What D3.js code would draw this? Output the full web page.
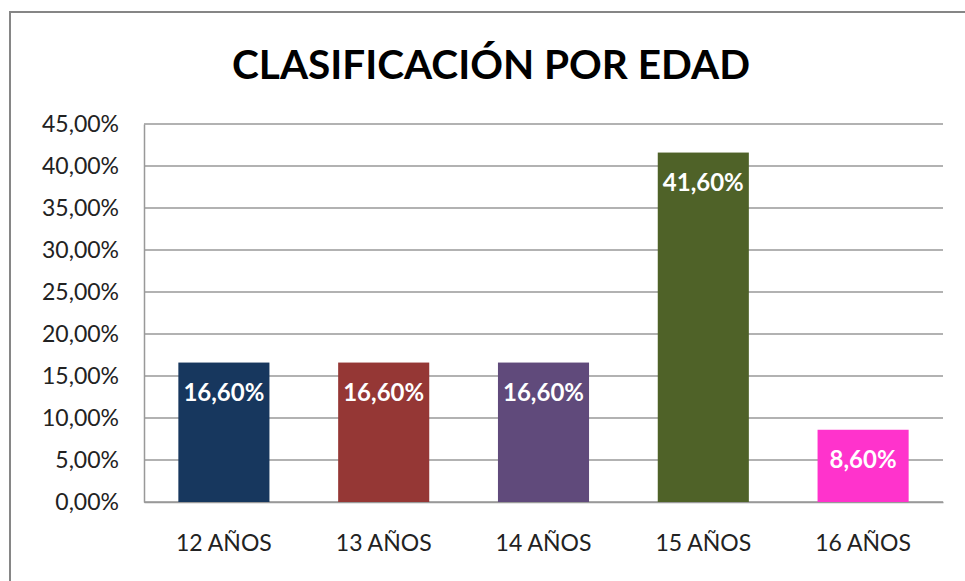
<!DOCTYPE html>
<html>
<head>
<meta charset="utf-8">
<script src="https://cdn.jsdelivr.net/npm/d3@7"></script>
<style>
  body { margin: 0; background: #fff; }
  svg { display: block; }
</style>
</head>
<body>
<div id="chart"></div>
<script>
// categories and values
var categories = ["12 AÑOS", "13 AÑOS", "14 AÑOS", "15 AÑOS", "16 AÑOS"];
var values = [16.6, 16.6, 16.6, 41.6, 8.6];
var barColors = ["#17375E", "#953735", "#604A7B", "#4F6228", "#FF33CC"];
var yTicks = [0, 5, 10, 15, 20, 25, 30, 35, 40, 45];

var W = 965, H = 581;
var plot = { left: 144, right: 943, top: 124, bottom: 502 };
var font = "Lato, 'Liberation Sans', Arial, sans-serif";

var svg = d3.select("#chart").append("svg")
    .attr("width", W)
    .attr("height", H);

// outer chart border (runs off the right / bottom edge like the screenshot)
svg.append("rect")
    .attr("x", 10).attr("y", 12)
    .attr("width", W + 10).attr("height", H + 10)
    .attr("fill", "#fff")
    .attr("stroke", "#868686")
    .attr("stroke-width", 2);

// title
svg.append("text")
    .attr("x", 491).attr("y", 79)
    .attr("text-anchor", "middle")
    .attr("textLength", 518)
    .attr("lengthAdjust", "spacingAndGlyphs")
    .style("font-family", font)
    .style("font-weight", "bold")
    .style("font-size", "40px")
    .style("fill", "#000")
    .text("CLASIFICACIÓN POR EDAD");

var x = d3.scaleBand()
    .domain(categories)
    .range([plot.left, plot.right])
    .paddingInner(0.43)
    .paddingOuter(0.215);

var y = d3.scaleLinear()
    .domain([0, 45])
    .range([plot.bottom, plot.top]);

// gridlines
svg.append("g")
    .selectAll("line")
    .data(yTicks)
    .join("line")
    .attr("x1", plot.left).attr("x2", plot.right)
    .attr("y1", function(d) { return y(d); })
    .attr("y2", function(d) { return y(d); })
    .attr("stroke", "#999")
    .attr("stroke-width", 1.5);

// y axis
var yAxis = d3.axisLeft(y)
    .tickValues(yTicks)
    .tickSize(0)
    .tickPadding(25)
    .tickFormat(function(d) { return d3.format(".2f")(d).replace(".", ",") + "%"; });

var gy = svg.append("g")
    .attr("transform", "translate(" + plot.left + ",0)")
    .call(yAxis);
gy.select(".domain").attr("stroke", "#999").attr("stroke-width", 1.5);
gy.selectAll("text")
    .style("font-family", font)
    .style("font-size", "23px")
    .style("fill", "#222");

// x axis labels
var xAxis = d3.axisBottom(x).tickSize(0).tickPadding(33);
var gx = svg.append("g")
    .attr("transform", "translate(0," + plot.bottom + ")")
    .call(xAxis);
gx.select(".domain").attr("stroke", "#999").attr("stroke-width", 1.5);
gx.selectAll("text")
    .style("font-family", font)
    .style("font-size", "23px")
    .style("fill", "#222");

// bars
svg.append("g")
    .selectAll("rect")
    .data(values)
    .join("rect")
    .attr("x", function(d, i) { return x(categories[i]); })
    .attr("y", function(d) { return y(d); })
    .attr("width", x.bandwidth())
    .attr("height", function(d) { return y(0) - y(d); })
    .attr("fill", function(d, i) { return barColors[i]; });

// value labels inside the bars
svg.append("g")
    .selectAll("text")
    .data(values)
    .join("text")
    .attr("x", function(d, i) { return x(categories[i]) + x.bandwidth() / 2; })
    .attr("y", function(d) { return y(d) + 38; })
    .attr("text-anchor", "middle")
    .style("font-family", font)
    .style("font-weight", "bold")
    .style("font-size", "24px")
    .style("fill", "#fff")
    .text(function(d) { return d3.format(".2f")(d).replace(".", ",") + "%"; });
</script>
</body>
</html>
